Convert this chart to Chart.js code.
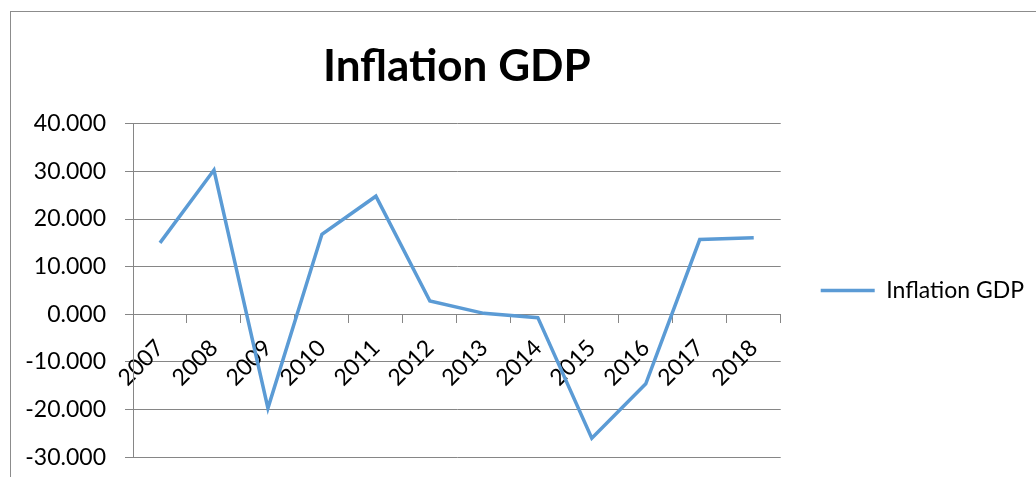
<!DOCTYPE html>
<html>
<head>
<meta charset="utf-8">
<script src="https://cdn.jsdelivr.net/npm/chart.js@4.4.1/dist/chart.umd.min.js"></script>
<style>
  html, body { margin: 0; padding: 0; background: #fff; overflow: hidden; }
  #frame {
    position: absolute; left: 10px; top: 11px;
    width: 1100px; height: 520px;
    border: 1px solid #8c8c8c;
  }
  #wrap { position: absolute; left: 0; top: 0; width: 1100px; height: 478px; }
</style>
</head>
<body>
<div id="frame">
  <div id="wrap"><canvas id="myChart"></canvas></div>
</div>
<script>
// năm và lạm phát GDP (%)
const years = ["2007", "2008", "2009", "2010", "2011", "2012", "2013", "2014", "2015", "2016", "2017", "2018"]
const inflation = [15.0, 30.3, -19.7, 16.8, 24.8, 2.8, 0.2, -0.7, -26.0, -14.6, 15.7, 16.1]
const yMin = -30
const yMax = 40
const yStep = 10

const fontName = "Lato"
const gridColor = "#868686"
const lineColor = "#5B9BD5"

Chart.defaults.font.family = fontName
Chart.defaults.color = "#000"

const chart = new Chart("myChart", {
  type: "line",
  data: {
    labels: years,
    datasets: [{
      label: "Inflation GDP",
      data: inflation,
      borderColor: lineColor,
      backgroundColor: lineColor,
      borderWidth: 3.5,
      pointRadius: 0,
      tension: 0
    }]
  },
  options: {
    responsive: true,
    maintainAspectRatio: false,
    animation: false,
    layout: {
      padding: { left: 0, right: 77, top: 0, bottom: 0 }
    },
    plugins: {
      tooltip: { enabled: false },
      title: {
        display: true,
        text: "Inflation GDP",
        fullSize: false,
        color: "#000",
        font: { size: 44, weight: "bold" },
        padding: { top: 28, bottom: 31 }
      },
      legend: {
        position: "right",
        fullSize: false,
        labels: {
          usePointStyle: true,
          pointStyle: "line",
          pointStyleWidth: 54,
          color: "#000",
          font: { size: 23 },
          padding: 40
        }
      }
    },
    scales: {
      x: {
        // trục năm cắt trục tung tại 0
        position: { y: 0 },
        offset: true,
        grid: {
          offset: true,
          drawOnChartArea: false,
          color: gridColor,
          tickLength: 8
        },
        border: { color: gridColor },
        ticks: {
          autoSkip: false,
          minRotation: 45,
          maxRotation: 45,
          font: { size: 23 },
          padding: 12
        }
      },
      y: {
        min: yMin,
        max: yMax,
        afterFit: (scale) => { scale.width = 122 },
        grid: { color: gridColor, tickLength: 8 },
        border: { color: gridColor },
        ticks: {
          stepSize: yStep,
          font: { size: 23 },
          padding: 19,
          callback: (v) => v.toFixed(3)
        }
      }
    }
  }
})
</script>
</body>
</html>
